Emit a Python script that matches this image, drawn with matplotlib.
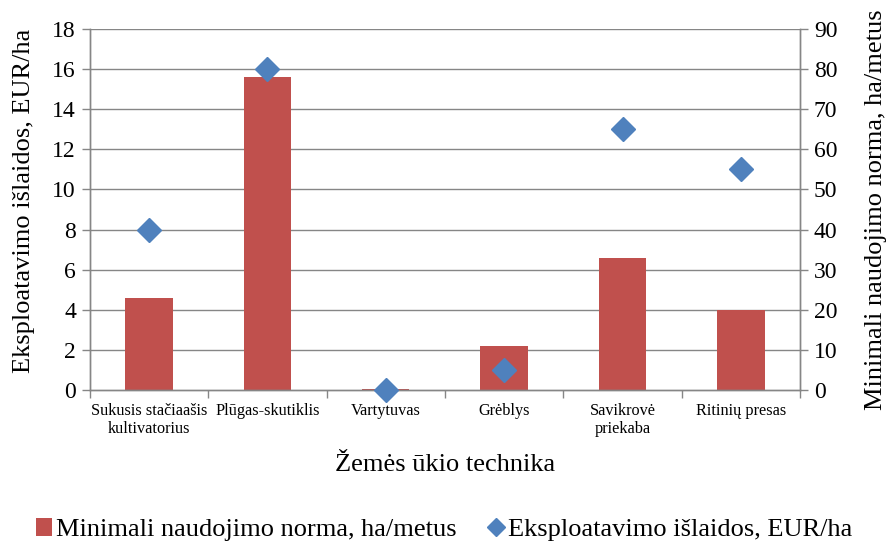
import matplotlib
matplotlib.use("Agg")
import matplotlib.pyplot as plt
from matplotlib.lines import Line2D
from matplotlib.patches import Patch
import numpy as np

plt.rcParams['font.family'] = ['Liberation Serif', 'DejaVu Serif']

categories = ["Sukusis stačiaašis\nkultivatorius", "Plūgas-skutiklis", "Vartytuvas",
              "Grėblys", "Savikrovė\npriekaba", "Ritinių presas"]
norma_ha_metus = [23, 78, 0.25, 11, 33, 20]       # bars, right axis
islaidos_eur_ha = [8, 16, 0, 1, 13, 11]           # diamonds, left axis
left_ticks = list(range(0, 19, 2))
right_ticks = list(range(0, 91, 10))

bar_color = "#C0504D"
marker_color = "#4F81BD"
axis_color = "#868686"

fig = plt.figure(figsize=(8.89, 5.46), dpi=100)
ax = fig.add_axes([0.101, 0.2857, 0.799, 0.6613])
ax2 = ax.twinx()

x = np.arange(len(categories))
ax2.bar(x, norma_ha_metus, width=0.4, color=bar_color, zorder=2)
ax.plot(x, islaidos_eur_ha, linestyle="none", marker="D", markersize=12,
        color=marker_color, zorder=5, clip_on=False)

ax.set_zorder(ax2.get_zorder() + 1)
ax.patch.set_visible(False)

ax.set_xlim(-0.5, len(categories) - 0.5)
ax.set_ylim(0, 18)
ax2.set_ylim(0, 90)
ax.set_yticks(left_ticks)
ax2.set_yticks(right_ticks)

# horizontal gridlines drawn on the bar axis so bars sit above them
for v in right_ticks[1:]:
    ax2.axhline(v, color=axis_color, linewidth=1.0, zorder=1)

ax.set_xticks(np.arange(len(categories) + 1) - 0.5, minor=False)
ax.set_xticklabels([])
ax.set_xticks(x, minor=True)
ax.set_xticklabels(categories, minor=True, fontsize=11.7, linespacing=1.2)
ax.tick_params(axis="x", which="minor", length=0, pad=9)
ax.tick_params(axis="x", which="major", length=6, color=axis_color, width=1)

ax.tick_params(axis="y", length=6, color=axis_color, width=1, labelsize=17, pad=4)
ax2.tick_params(axis="y", length=6, color=axis_color, width=1, labelsize=17, pad=4)

for a in (ax, ax2):
    a.spines["top"].set_visible(False)
    for s in ("left", "right", "bottom"):
        a.spines[s].set_color(axis_color)
        a.spines[s].set_linewidth(1.0)

ax.set_ylabel("Eksploatavimo išlaidos, EUR/ha", fontsize=19, labelpad=12, y=0.525)
ax2.set_ylabel("Minimali naudojimo norma, ha/metus", fontsize=19, labelpad=20)
ax.set_xlabel("Žemės ūkio technika", fontsize=19, labelpad=12)

handles = [
    Patch(facecolor=bar_color, edgecolor="none"),
    Line2D([], [], linestyle="none", marker="D", markersize=9.5, color=marker_color),
]
fig.legend(handles, ["Minimali naudojimo norma, ha/metus", "Eksploatavimo išlaidos, EUR/ha"],
           loc="center", bbox_to_anchor=(0.5, 0.03), ncol=2, frameon=False,
           fontsize=19, handlelength=0.6, handletextpad=0.15, columnspacing=1.2)

fig.savefig("out.png", dpi=100)
